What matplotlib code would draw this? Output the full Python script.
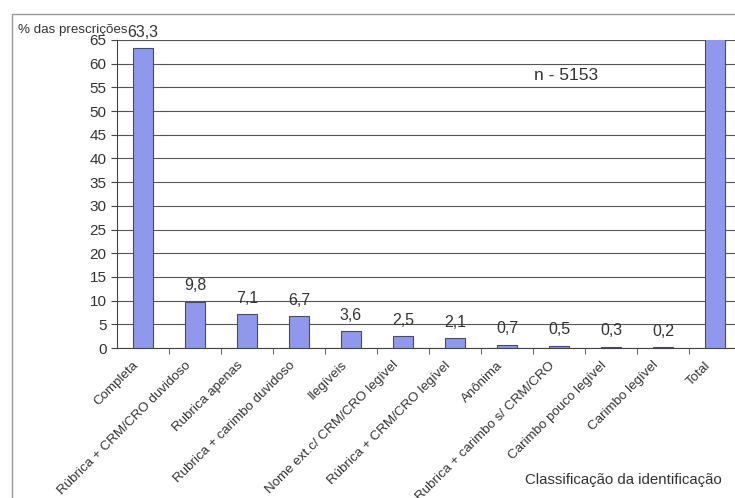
import matplotlib
matplotlib.use("Agg")
import numpy as np
import matplotlib.pyplot as plt
from matplotlib.patches import Rectangle

plt.rcParams['font.family'] = ['Liberation Sans', 'DejaVu Sans']

# Data
categories = ["Completa", "Rúbrica + CRM/CRO duvidoso", "Rubrica apenas",
              "Rubrica + carimbo duvidoso", "Ilegíveis", "Nome ext.c/ CRM/CRO legível",
              "Rúbrica + CRM/CRO legível", "Anônima", "Rubrica + carimbo s/ CRM/CRO",
              "Carimbo pouco legível", "Carimbo legível", "Total"]
values = [63.3, 9.8, 7.1, 6.7, 3.6, 2.5, 2.1, 0.7, 0.5, 0.3, 0.2, 100]
labels = ["63,3", "9,8", "7,1", "6,7", "3,6", "2,5", "2,1", "0,7", "0,5", "0,3", "0,2", ""]

txt = '#333333'
W, H = 735, 498
fig = plt.figure(figsize=(W / 100, H / 100), dpi=100)

# outer chart frame (runs off the right and bottom edge)
fig.patches.append(Rectangle((12 / W, -0.05), 1.1, (H - 14) / H + 0.05,
                             transform=fig.transFigure, fill=False,
                             edgecolor='#9a9a9a', lw=1.0))

ax = fig.add_axes([117 / W, 150 / H, 624 / W, 308 / H])
index = np.arange(len(categories))
ax.bar(index, values, width=0.4, color='#8f99ec', edgecolor='#4a4a6a', linewidth=0.8,
       zorder=3)
ax.set_xlim(-0.5, len(categories) - 0.5)
ax.set_ylim(0, 65)
ax.set_yticks(np.arange(0, 66, 5))
ax.yaxis.grid(True, color='#555555', lw=0.8)
ax.set_axisbelow(True)

for s in ['top', 'right']:
    ax.spines[s].set_visible(False)
ax.spines['left'].set_color('#444444')
ax.spines['bottom'].set_color('#444444')

# tick marks sit between the bars, labels sit slightly left of each bar
ax.set_xticks(index[:-1] + 0.5, minor=True)
ax.set_xticks(index - 0.2)
ax.set_xticklabels(categories, rotation=45, ha='right', rotation_mode='anchor',
                   fontsize=9.6, color=txt)
ax.tick_params(axis='x', which='major', length=0, pad=8)
ax.tick_params(axis='x', which='minor', length=4, direction='out', color='#444444')
ax.tick_params(axis='y', length=4, direction='out', color='#444444', labelsize=11,
               labelcolor=txt)

for i, (v, lab) in enumerate(zip(values, labels)):
    if lab:
        ax.annotate(lab, (i, v), xytext=(0, 6), textcoords='offset points',
                    ha='center', va='bottom', fontsize=11.5, color=txt,
                    annotation_clip=False)

fig.text(18 / W, 1 - 30 / H, "% das prescrições", fontsize=9.6, color=txt,
         ha='left', va='center')
fig.text(566 / W, 1 - 75 / H, "n - 5153", fontsize=12.5, color=txt,
         ha='center', va='center')
fig.text(623 / W, 1 - 480 / H, "Classificação da identificação", fontsize=10.8,
         color=txt, ha='center', va='center')

fig.savefig("out.png", dpi=100)
